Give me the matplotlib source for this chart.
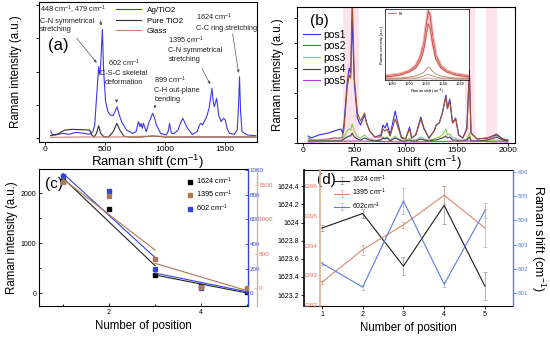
import matplotlib.pyplot as plt

plt.rcParams['font.family'] = ['Liberation Sans', 'DejaVu Sans']
plt.rcParams['mathtext.fontset'] = 'custom'
plt.rcParams['mathtext.rm'] = 'Liberation Sans'
plt.rcParams['mathtext.it'] = 'Liberation Sans:italic'
plt.rcParams['mathtext.bf'] = 'Liberation Sans:bold'
plt.rcParams['axes.linewidth'] = 0.8

CM = ' cm$^{-1}$'

# (a) spectra on different substrates
ag_x = [47, 60, 83, 150, 200, 260, 330, 370, 400, 415, 430, 448, 458, 465, 479, 490, 506, 525, 545, 567,
        585, 602, 620, 640, 680, 730, 760, 780, 792, 802, 812, 822, 845, 870, 899, 915, 930, 965, 1010, 1028,
        1040, 1055, 1080, 1110, 1130, 1151, 1170, 1190, 1230, 1270, 1290, 1300, 1315, 1330, 1350, 1370, 1394,
        1405, 1414, 1433, 1450, 1470, 1490, 1505, 1520, 1540, 1580, 1605, 1615, 1624, 1633, 1645, 1690, 1760]
ag_y = [22, 12, 10, 15, 12, 18, 15, 12, 20, 40, 120, 215, 190, 220, 327, 200, 110, 80, 70, 68,
        80, 95, 70, 50, 25, 15, 20, 50, 35, 45, 30, 45, 20, 50, 75, 60, 40, 15, 10, 20,
        45, 15, 15, 25, 45, 60, 45, 30, 12, 20, 40, 45, 40, 50, 65, 90, 150,
        110, 95, 120, 70, 50, 60, 55, 30, 15, 12, 25, 90, 185, 80, 20, 10, 8]
tio2_x = [47, 100, 140, 166, 230, 300, 373, 390, 410, 430, 448, 465, 490, 530, 570, 600, 625, 660, 700,
          800, 900, 1000, 1200, 1500, 1760]
tio2_y = [8, 12, 20, 25, 27, 26, 25, 10, 4, 15, 38, 15, 5, 4, 20, 45, 25, 6, 4, 4, 7, 4, 4, 4, 4]
glass_x = [47, 300, 600, 900, 1200, 1760]
glass_y = [3, 4, 4, 7, 4, 3]

# (b) spectra at five positions
b_x = [50, 80, 150, 250, 300, 370, 385, 400, 430, 450, 465, 479, 500, 530, 560, 600, 620, 650, 700, 760,
       780, 800, 820, 850, 899, 920, 960, 1000, 1040, 1060, 1100, 1150, 1180, 1230, 1280, 1300, 1330, 1360,
       1395, 1410, 1433, 1460, 1490, 1520, 1560, 1600, 1624, 1640, 1700, 1800, 1890, 1950, 2000]
pos1 = [7, 5, 8, 10, 12, 14, 10, 20, 60, 75, 70, 125, 60, 25, 18, 28, 20, 12, 6, 8,
        18, 15, 20, 8, 32, 22, 6, 4, 16, 5, 8, 26, 15, 5, 12, 18, 20, 30,
        48, 35, 44, 20, 25, 8, 5, 15, 72, 10, 4, 5, 8, 4, 3]
pos2 = [5, 3, 3, 4, 5, 5, 6, 15, 55, 68, 65, 150, 65, 30, 22, 30, 20, 12, 6, 6,
        14, 12, 14, 7, 24, 18, 5, 4, 14, 5, 8, 24, 14, 5, 12, 18, 20, 30,
        46, 34, 42, 20, 24, 8, 5, 14, 72, 10, 4, 5, 9, 4, 3]
pos3 = [3, 3, 3, 3, 3, 3, 4, 6, 12, 14, 13, 19, 12, 6, 5, 8, 6, 4, 3, 3,
        6, 5, 6, 3, 7, 5, 3, 3, 5, 3, 3, 6, 4, 3, 4, 5, 6, 8,
        14, 8, 9, 5, 5, 3, 3, 4, 10, 3, 2, 3, 3, 2, 2]
pos4 = [2, 2, 2, 2, 2, 2, 3, 4, 6, 7, 7, 10, 6, 4, 3, 5, 4, 3, 2, 3,
        5, 4, 5, 2, 5, 4, 2, 2, 3, 2, 2, 4, 3, 2, 3, 3, 4, 5,
        7, 5, 6, 3, 3, 2, 2, 3, 6, 2, 2, 3, 6, 3, 2]
pos5_x = [50, 500, 1000, 1624, 2000]
pos5 = [1, 2, 1, 2, 1]

# (b) inset: fits of the 1624 band
fit_x = [1572, 1590, 1600, 1608, 1614, 1618, 1621, 1623, 1625, 1628, 1632, 1638, 1645, 1655, 1671]
fit1 = [4, 6, 9, 14, 24, 38, 58, 70, 66, 45, 25, 14, 9, 6, 4]
fit2 = [3, 5, 8, 12, 20, 32, 48, 57, 53, 37, 21, 12, 8, 5, 3]
fit3 = [2, 2, 3, 4, 6, 8, 11, 13, 12, 9, 6, 4, 3, 2, 2]
fit4 = [1, 1, 2, 2, 3, 4, 5, 6, 5, 4, 3, 2, 2, 1, 1]
fit5 = [1, 1, 1, 1, 1, 1, 2, 2, 2, 1, 1, 1, 1, 1, 1]

# (c) intensities vs position
pos = [1, 2, 3, 4, 5]
c1624 = [2250, 1680, 360, 140, 20]
c1395 = [1550, 1335, 422, 10, 0]
c602 = [950, 832, 195, 38, 27]
seg1_x = [1, 3]
seg2_x = [3, 5]
c1624_fit1 = [2300, 547]
c1624_fit2 = [360, 0]
c1395_fit1 = [1587, 553]
c1395_fit2 = [360, -39]
c602_fit1 = [975, 290]
c602_fit2 = [163, 11]

# (d) peak shifts vs position
d1624 = [1623.94, 1624.10, 1623.52, 1624.19, 1623.30]
d1624_err = [0.03, 0.05, 0.1, 0.21, 0.15]
d1395 = [1392.77, 1393.87, 1394.7, 1395.7, 1394.6]
d1395_err = [0.05, 0.17, 0.1, 0.3, 0.65]
d602 = [602.23, 601.25, 604.8, 601.37, 604.4]
d602_err = [0.05, 0.1, 0.53, 0.1, 0.32]

W, H = 550, 338


def box(x0, y0, x1, y1):
    return [x0 / W, 1 - y1 / H, (x1 - x0) / W, (y1 - y0) / H]


fig = plt.figure(figsize=(5.5, 3.38), dpi=100)

# ---------- (a)
ax = fig.add_axes(box(39, 2, 257, 142))
ax.plot(ag_x, ag_y, color='#3b3be6', lw=0.8, label='Ag/TiO2')
ax.plot(tio2_x, tio2_y, color='#303030', lw=0.8, label='Pure TiO2')
ax.plot(glass_x, glass_y, color='#c8826a', lw=0.8, label='Glass')
ax.set_xlim(-50, 1770)
ax.set_ylim(-11, 409)
ax.set_xticks([0, 500, 1000, 1500])
ax.set_yticks([0, 100, 200, 300, 400])
ax.set_yticklabels([])
ax.tick_params(labelsize=6, length=2, width=0.6, pad=1)
ax.set_xlabel('Raman shift (cm$^{-1}$)', fontsize=9.5, labelpad=0)
ax.set_ylabel('Raman intensity (a.u.)', fontsize=8.3, labelpad=9)
ax.legend(loc='upper left', bbox_to_anchor=(0.34, 0.99), frameon=False, fontsize=5.8,
          handlelength=3, labelspacing=0.35, borderaxespad=0)
ax.text(0.04, 0.69, '(a)', transform=ax.transAxes, fontsize=12, va='center')

akw = dict(fontsize=5.3, color='#222222', va='top', linespacing=1.35)
arr = dict(arrowstyle='-|>', color='#555555', lw=0.5, mutation_scale=4)
ax.text(-42, 404, '448' + CM + ', 479' + CM + '\nC-N symmetrical\nstretching', **akw)
ax.annotate('', xy=(446, 220), xytext=(249, 307), arrowprops=arr)
ax.annotate('', xy=(474, 330), xytext=(458, 362), arrowprops=arr)
ax.text(655, 243, '602' + CM + '\nC-S-C skeletal\ndeformation', ha='center', **akw)
ax.annotate('', xy=(598, 98), xytext=(598, 120), arrowprops=arr)
ax.text(913, 192, '899' + CM + '\nC-H out-plane\nbending', **akw)
ax.annotate('', xy=(900, 82), xytext=(930, 104), arrowprops=arr)
ax.text(1030, 312, '1395' + CM + '\nC-N symmetrical\nstretching', **akw)
ax.annotate('', xy=(1390, 155), xytext=(1300, 217), arrowprops=arr)
ax.text(1262, 380, '1624' + CM + '\nC-C ring stretching', **akw)
ax.annotate('', xy=(1620, 188), xytext=(1563, 322), arrowprops=arr)

# ---------- (b)
bx = fig.add_axes(box(297, 7, 515, 143))
for lo, hi in [(390, 545), (1580, 1680), (1790, 1890)]:
    bx.axvspan(lo, hi, color='#fde3ec', lw=0, zorder=0)
bx.plot(b_x, pos1, color='#3030ee', lw=0.8, label='pos1')
bx.plot(b_x, pos2, color='#a0522d', lw=0.8, label='pos2')
bx.plot(b_x, pos3, color='#80d050', lw=0.8, label='pos3')
bx.plot(b_x, pos4, color='#444036', lw=0.8, label='pos4')
bx.plot(pos5_x, pos5, color='#b040d0', lw=0.8, label='pos5')
bx.set_xlim(-60, 2070)
bx.set_ylim(0, 136)
bx.set_xticks([0, 500, 1000, 1500, 2000])
bx.set_yticks([0, 25, 50, 75, 100, 125])
bx.set_yticklabels([])
bx.tick_params(labelsize=6, length=2, width=0.6, pad=1)
bx.set_xlabel('Raman shift (cm$^{-1}$)', fontsize=9.5, labelpad=0)
bx.set_ylabel('Raman intensity (a.u.)', fontsize=8.3, labelpad=6)
bx.legend(loc='upper left', bbox_to_anchor=(0.0, 0.88), frameon=False, fontsize=7.5,
          handlelength=1.6, handletextpad=0.3, labelspacing=0.15, borderaxespad=0.2)
bx.text(0.06, 0.9, '(b)', transform=bx.transAxes, fontsize=11, va='center')

ix = fig.add_axes(box(385, 9, 469, 80))
ix.plot(fit_x, fit1, color='#f29a9a', lw=2.2, alpha=0.8)
ix.plot(fit_x, fit1, color='#c03838', lw=0.5, label='Fit')
ix.plot(fit_x, fit2, color='#f0a8a0', lw=1.6, alpha=0.8)
ix.plot(fit_x, fit2, color='#b04a3a', lw=0.5)
ix.plot(fit_x, fit3, color='#c08060', lw=0.6)
ix.plot(fit_x, fit4, color='#b07050', lw=0.5)
ix.plot(fit_x, fit5, color='#9a5a5a', lw=0.4)
ix.set_xlim(1572, 1671)
ix.set_ylim(0, 72)
ix.set_xticks([1580, 1600, 1620, 1640, 1660])
ix.set_yticks([])
ix.tick_params(labelsize=2.8, length=1, width=0.4, pad=0.5)
for s in ix.spines.values():
    s.set_linewidth(0.5)
ix.set_xlabel('Raman shift (cm$^{-1}$)', fontsize=2.8, labelpad=0.5)
ix.set_ylabel('Raman intensity (a.u.)', fontsize=2.8, labelpad=1)
ix.legend(loc='upper left', frameon=False, fontsize=2.8, handlelength=2, borderaxespad=0.3)

# ---------- (c)
cx = fig.add_axes(box(39, 169, 248, 306))
cb = cx.twinx()
cr = cx.twinx()
col_r = '#b07850'
col_b = '#3344dd'
h1, = cx.plot(pos, c1624, 's', color='black', ms=2.6, label='1624' + CM)
cx.plot(seg1_x, c1624_fit1, color='#222222', lw=0.8)
cx.plot(seg2_x, c1624_fit2, color='#222222', lw=0.8)
h2, = cr.plot(pos, c1395, 's', color=col_r, ms=2.6, label='1395' + CM)
cr.plot(seg1_x, c1395_fit1, color=col_r, lw=0.8)
cr.plot(seg2_x, c1395_fit2, color=col_r, lw=0.8)
h3, = cb.plot(pos, c602, 's', color=col_b, ms=2.6, label='602' + CM)
cb.plot(seg1_x, c602_fit1, color=col_b, lw=0.8)
cb.plot(seg2_x, c602_fit2, color=col_b, lw=0.8)
cx.set_xlim(0.48, 5.02)
cx.set_ylim(-260, 2480)
cb.set_ylim(-105, 1010)
cr.set_ylim(-262, 1733)
cx.set_xticks([2, 4])
cx.set_xticks([1, 3, 5], minor=True)
cx.set_yticks([0, 1000, 2000])
cx.set_yticks([500, 1500], minor=True)
cx.tick_params(which='both', direction='in', labelsize=5, length=2, width=0.6, pad=2)
cx.tick_params(which='minor', length=1.2)
cx.spines['right'].set_visible(False)
cb.set_yticks([0, 200, 400, 600, 800, 1000])
cb.tick_params(axis='y', direction='in', colors=col_b, labelsize=4.5, length=2, width=0.6, pad=1)
cb.spines['right'].set_color(col_b)
cb.spines['right'].set_linewidth(1.0)
cr.spines['right'].set_position(('axes', 1.045))
cr.spines['right'].set_color('#d8b090')
cr.spines['right'].set_linewidth(1.0)
cr.set_yticks([0, 500, 1000, 1500])
cr.tick_params(axis='y', direction='in', color='#d8b090', labelcolor='#e07060', labelsize=4.6,
               length=2, width=0.6, pad=1)
for a in (cb, cr):
    for side in ('left', 'top', 'bottom'):
        a.spines[side].set_visible(False)
cx.set_xlabel('Number of position', fontsize=8.3, labelpad=3)
cx.set_ylabel('Raman intensity (a.u.)', fontsize=8.3, labelpad=2)
cr.legend(handles=[h1, h2, h3], loc='upper left', bbox_to_anchor=(0.69, 0.97), frameon=False,
          fontsize=5.3, handlelength=1, handletextpad=0.3, labelspacing=0.25, borderaxespad=0)
cx.text(0.03, 0.89, '(c)', transform=cx.transAxes, fontsize=11, va='center')

# ---------- (d)
dx = fig.add_axes(box(304, 170, 513, 306))
dr = dx.twinx()
db = dx.twinx()
dcol_r = '#d5876a'
dcol_b = '#5b7be0'
ekw = dict(elinewidth=0.5, capsize=1.5, capthick=0.5, lw=0.8)
e1 = dx.errorbar(pos, d1624, yerr=d1624_err, color='#1a1a1a', ecolor='#9a9a9a', label='1624' + CM, **ekw)
e2 = dr.errorbar(pos, d1395, yerr=d1395_err, color=dcol_r, ecolor='#d0a898', label='1395' + CM, **ekw)
e3 = db.errorbar(pos, d602, yerr=d602_err, color=dcol_b, ecolor='#a8b4d8', label='602cm$^{-1}$', **ekw)
dx.set_xlim(0.56, 5.69)
dx.set_ylim(1623.08, 1624.58)
dr.set_ylim(1391.97, 1396.55)
db.set_ylim(600.47, 606.08)
dx.set_xticks([1, 2, 3, 4, 5])
dx.set_yticks([1623.2, 1623.4, 1623.6, 1623.8, 1624.0, 1624.2, 1624.4])
dx.set_yticklabels(['1623.2', '1623.4', '1623.6', '1623.8', '1624', '1624.2', '1624.4'])
dx.tick_params(labelsize=5, length=2, width=0.6, pad=1.5)
dx.spines['left'].set_linewidth(1.2)
dx.spines['right'].set_visible(False)
dr.yaxis.set_ticks_position('left')
dr.spines['left'].set_visible(True)
dr.spines['left'].set_position(('axes', 0.077))
dr.spines['left'].set_color('#d8b090')
dr.spines['left'].set_linewidth(1.2)
dr.set_yticks([1392, 1393, 1394, 1395, 1396])
dr.tick_params(axis='y', color='#d8b090', labelcolor='#e07060', labelsize=4.5, length=1.5,
               width=0.6, pad=0.5)
for side in ('right', 'top', 'bottom'):
    dr.spines[side].set_visible(False)
db.set_yticks([601, 602, 603, 604, 605, 606])
db.tick_params(axis='y', colors=dcol_b, labelsize=4.5, length=2, width=0.6, pad=1)
db.spines['right'].set_color(dcol_b)
db.spines['right'].set_linewidth(1.0)
for side in ('left', 'top', 'bottom'):
    db.spines[side].set_visible(False)
dx.set_xlabel('Number of position', fontsize=8.3, labelpad=3)
db.set_ylabel('Raman shift (cm$^{-1}$)', fontsize=9, rotation=270, labelpad=14)
db.legend(handles=[e1, e2, e3], loc='upper left', bbox_to_anchor=(0.13, 0.99), frameon=False,
          fontsize=5, handlelength=2.2, handletextpad=0.4, labelspacing=0.25, borderaxespad=0)
dx.text(0.06, 0.93, '(d)', transform=dx.transAxes, fontsize=11, va='center')

fig.savefig('out.png', dpi=100)
